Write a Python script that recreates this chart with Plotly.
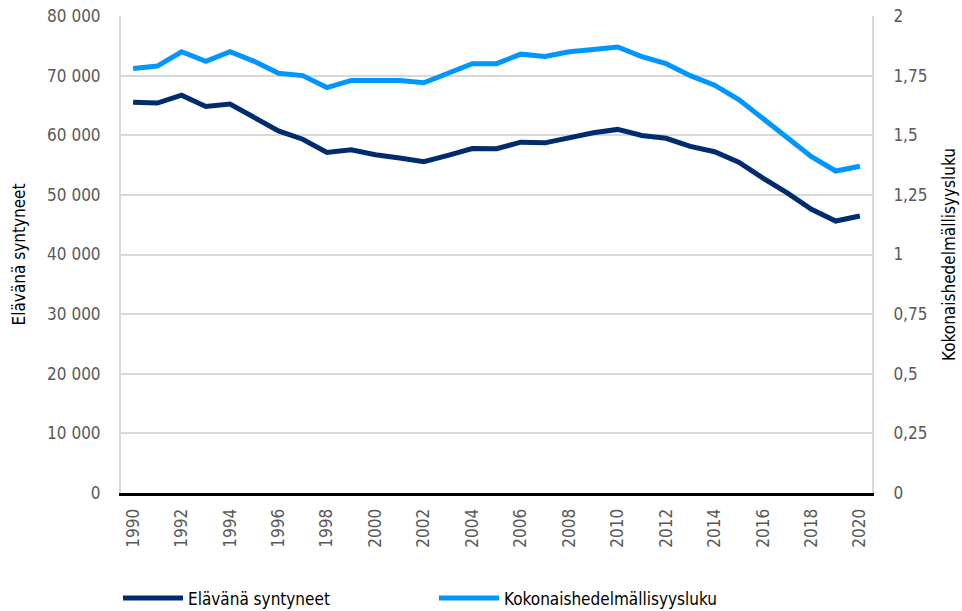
import plotly.graph_objects as go

years = list(range(1990, 2021))
births = [65549, 65395, 66731, 64826, 65231, 63067, 60723, 59329, 57108, 57574,
          56742, 56189, 55555, 56630, 57758, 57745, 58840, 58729, 59530, 60430,
          60980, 59961, 59493, 58134, 57232, 55472, 52814, 50321, 47577, 45613, 46463]
tfr = [1.78, 1.79, 1.85, 1.81, 1.85, 1.81, 1.76, 1.75, 1.70, 1.73,
       1.73, 1.73, 1.72, 1.76, 1.80, 1.80, 1.84, 1.83, 1.85, 1.86,
       1.87, 1.83, 1.80, 1.75, 1.71, 1.65, 1.57, 1.49, 1.41, 1.35, 1.37]

left_tickvals = [0, 10000, 20000, 30000, 40000, 50000, 60000, 70000, 80000]
left_ticktext = ["0", "10 000", "20 000", "30 000", "40 000", "50 000", "60 000", "70 000", "80 000"]
right_tickvals = [0, 0.25, 0.5, 0.75, 1, 1.25, 1.5, 1.75, 2]
right_ticktext = ["0", "0,25", "0,5", "0,75", "1", "1,25", "1,5", "1,75", "2"]
x_tickvals = list(range(1990, 2021, 2))

series_names = ["Elävänä syntyneet", "Kokonaishedelmällisyysluku"]
colors = ["#002b6c", "#0096ff"]

FONT = "DejaVu Sans Condensed, Liberation Sans Narrow, sans-serif"


def f(color="#000000", size=17):
    return dict(family=FONT, size=size, color=color)


fig = go.Figure()
fig.add_trace(go.Scatter(x=years, y=births, name=series_names[0], mode="lines",
                         line=dict(color=colors[0], width=5), yaxis="y"))
fig.add_trace(go.Scatter(x=years, y=tfr, name=series_names[1], mode="lines",
                         line=dict(color=colors[1], width=5), yaxis="y2"))

fig.update_layout(
    width=962, height=611,
    margin=dict(l=121, r=90, t=16, b=118, autoexpand=False),
    paper_bgcolor="white", plot_bgcolor="white",
    font=f(),
    showlegend=True,
    legend=dict(orientation="h", x=-0.004, xanchor="left", y=-0.221, yanchor="middle",
                font=f(),
                entrywidth=241, entrywidthmode="pixels", itemwidth=60,
                bgcolor="rgba(0,0,0,0)"),
    xaxis=dict(range=[1989.5, 2020.5], tickmode="array", tickvals=x_tickvals,
               ticktext=[str(v) for v in x_tickvals], tickangle=-90,
               showgrid=False, zeroline=False, showline=True, linecolor="#000000",
               linewidth=3, ticks="", ticklabelstandoff=6, tickfont=f("#595959")),
    yaxis=dict(range=[0, 80000], tickmode="array", tickvals=left_tickvals,
               ticktext=left_ticktext, showgrid=True, gridcolor="#d9d9d9", gridwidth=2,
               zeroline=False, showline=True, linecolor="#d9d9d9", linewidth=2,
               ticks="", ticklabelstandoff=15,
               tickfont=f("#595959"),
               title=dict(text="Elävänä syntyneet", standoff=17, font=f())),
    yaxis2=dict(range=[0, 2], overlaying="y", side="right", tickmode="array",
                tickvals=right_tickvals, ticktext=right_ticktext, showgrid=False,
                zeroline=False, showline=True, linecolor="#d9d9d9", linewidth=2,
                ticks="", ticklabelstandoff=16,
                tickfont=f("#595959"),
                title=dict(text="Kokonaishedelmällisyysluku", standoff=17, font=f())),
)

fig.write_html("out.html", config={"displayModeBar": False},
               post_script="document.body.style.margin='0px';document.body.style.padding='0px';")
